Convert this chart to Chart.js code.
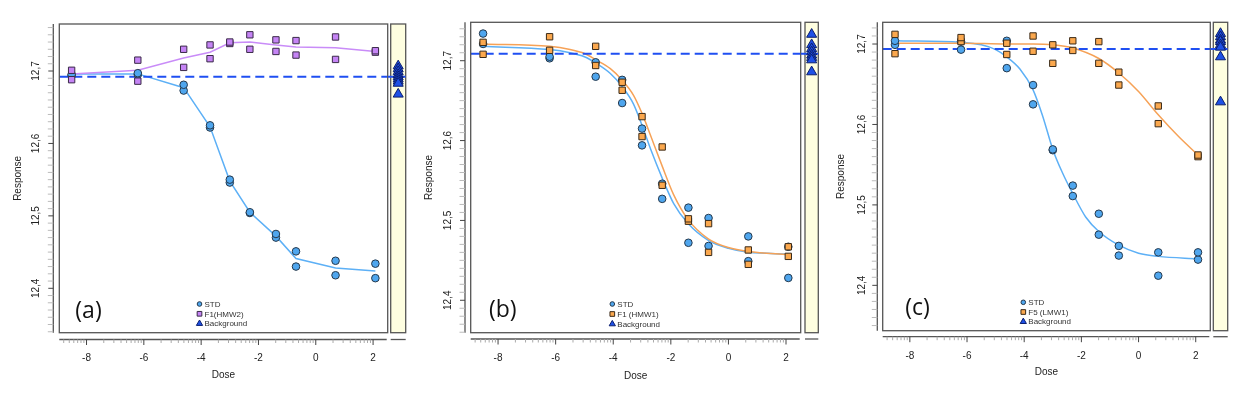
<!DOCTYPE html>
<html>
<head>
<meta charset="utf-8">
<script src="https://cdn.jsdelivr.net/npm/chart.js@4.4.1/dist/chart.umd.min.js"></script>
<style>
  html, body { margin: 0; padding: 0; background: #fff; }
  #wrap { position: relative; width: 1247px; height: 395px; overflow: hidden; }
  #wrap canvas { position: absolute; left: 0; top: 0; }
</style>
</head>
<body>
<div id="wrap"></div>
<script>
'use strict';

// doses (ln of concentration), same for all three panels
const doses = [-8.52, -6.21, -4.61, -3.69, -3.0, -2.3, -1.39, -0.69, 0.69, 2.08];
const xMajorTicks = [-8, -6, -4, -2, 0, 2];
const yMajorTicks = [12.4, 12.5, 12.6, 12.7];

// (a) STD vs F1(HMW2), two replicates per dose
const aLabels = ['STD', 'F1(HMW2)', 'Background'];
const aStdRep1 = [12.695, 12.697, 12.681, 12.625, 12.550, 12.505, 12.475, 12.451, 12.438, 12.434];
const aStdRep2 = [12.694, 12.695, 12.673, 12.622, 12.546, 12.504, 12.470, 12.430, 12.418, 12.414];
const aF1Rep1 = [12.701, 12.715, 12.730, 12.736, 12.740, 12.750, 12.743, 12.742, 12.747, 12.728];
const aF1Rep2 = [12.688, 12.686, 12.705, 12.717, 12.738, 12.730, 12.727, 12.722, 12.716, 12.726];
const aStdLine = [12.696, 12.696, 12.677, 12.623, 12.548, 12.505, 12.472, 12.441, 12.428, 12.424];
const aF1Line = [12.696, 12.701, 12.718, 12.726, 12.739, 12.740, 12.736, 12.733, 12.732, 12.727];
const aBackground = [12.707, 12.703, 12.699, 12.695, 12.692, 12.689, 12.686, 12.683, 12.668];
const aRefLevel = 12.692;

// (b) STD vs F1 (HMW1)
const bLabels = ['STD', 'F1 (HMW1)', 'Background'];
const bStdRep1 = [12.734, 12.705, 12.698, 12.676, 12.615, 12.546, 12.516, 12.503, 12.480, 12.467];
const bStdRep2 = [12.721, 12.703, 12.680, 12.647, 12.594, 12.527, 12.472, 12.468, 12.449, 12.428];
const bF1Rep1 = [12.723, 12.730, 12.718, 12.673, 12.630, 12.592, 12.502, 12.496, 12.463, 12.467];
const bF1Rep2 = [12.708, 12.713, 12.694, 12.663, 12.605, 12.544, 12.499, 12.460, 12.445, 12.455];
const bFitDose = [-8.52, -6.21, -5.5, -5.0, -4.6, -4.1, -3.7, -3.3, -3.0, -2.7, -2.3, -1.9, -1.4, -0.7, 0, 0.7, 2.08];
const bStdFit = [12.718, 12.714, 12.710, 12.705, 12.697, 12.684, 12.668, 12.646, 12.619, 12.589, 12.553, 12.521, 12.496, 12.475, 12.465, 12.460, 12.458];
const bF1Fit = [12.721, 12.718, 12.714, 12.709, 12.701, 12.690, 12.676, 12.657, 12.634, 12.606, 12.568, 12.532, 12.501, 12.477, 12.466, 12.461, 12.457];
const bBackground = [12.733, 12.720, 12.715, 12.711, 12.707, 12.704, 12.701, 12.686];
const bRefLevel = 12.7088;

// (c) STD vs F5 (LMW1)
const cLabels = ['STD', 'F5 (LMW1)', 'Background'];
const cStdRep1 = [12.704, 12.703, 12.704, 12.649, 12.569, 12.524, 12.489, 12.449, 12.441, 12.441];
const cStdRep2 = [12.699, 12.693, 12.670, 12.625, 12.568, 12.511, 12.463, 12.437, 12.412, 12.432];
const cF5Rep1 = [12.712, 12.708, 12.701, 12.710, 12.699, 12.704, 12.703, 12.665, 12.623, 12.562];
const cF5Rep2 = [12.688, 12.703, 12.687, 12.691, 12.676, 12.692, 12.676, 12.649, 12.601, 12.560];
const cStdFitDose = [-8.52, -6.21, -5.5, -5.0, -4.61, -4.15, -3.69, -3.35, -3.0, -2.65, -2.3, -1.85, -1.39, -0.69, 0, 0.69, 2.08];
const cStdFit = [12.704, 12.702, 12.699, 12.693, 12.684, 12.669, 12.643, 12.610, 12.569, 12.539, 12.514, 12.485, 12.467, 12.450, 12.440, 12.436, 12.433];
const cF5FitDose = [-8.52, -6.21, -4.61, -3.69, -3.0, -2.3, -1.39, -0.69, 0, 0.69, 1.4, 2.08];
const cF5Fit = [12.701, 12.701, 12.700, 12.700, 12.699, 12.695, 12.682, 12.664, 12.641, 12.612, 12.585, 12.562];
const cBackground = [12.713, 12.709, 12.705, 12.703, 12.699, 12.696, 12.684, 12.628];
const cRefLevel = 12.6938;

const W = 1247, H = 395;
const X_MIN = -8.95, X_MAX = 2.51;
const FONT = '"Liberation Sans", Arial, sans-serif';
const TXT = '#222';

const STD = { style: 'circle', fill: '#4FA6EE', edge: '#24384C', line: '#5DB0F6', r: 3.8 };
const PURPLE = { style: 'rect', fill: '#C584F5', edge: '#3A2A48', line: '#C98CF8', r: 4.5 };
const ORANGE = { style: 'rect', fill: '#FBA84E', edge: '#3A2A18', line: '#F6A257', r: 4.5 };
const BG = { style: 'triangle', fill: '#1E50E6', edge: '#0B1E6E', r: 5.8 };
const REF_COLOR = '#1F4FF2';

function pts(xs, ys) {
  return ys.map((y, i) => ({ x: xs[i], y: y }));
}

function markerSet(s, ys) {
  return {
    data: pts(doses, ys), pointStyle: s.style, pointRadius: s.r, pointHoverRadius: s.r,
    backgroundColor: s.fill, borderColor: s.edge, borderWidth: 1, order: 1
  };
}

function curveSet(s, xs, ys, smooth) {
  return {
    data: pts(xs, ys), showLine: true, pointRadius: 0, pointHoverRadius: 0,
    borderColor: s.line, borderWidth: 1.5, tension: 0,
    cubicInterpolationMode: smooth ? 'monotone' : 'default', order: 5
  };
}

function drawMarker(ctx, s, x, y, r) {
  ctx.fillStyle = s.fill;
  ctx.strokeStyle = s.edge;
  ctx.lineWidth = 1;
  ctx.beginPath();
  if (s.style === 'circle') {
    ctx.arc(x, y, r, 0, Math.PI * 2);
  } else if (s.style === 'rect') {
    const h = r * Math.SQRT1_2;
    ctx.rect(x - h, y - h, 2 * h, 2 * h);
  } else {
    ctx.moveTo(x, y - r);
    ctx.lineTo(x + r * 0.866, y + r * 0.5);
    ctx.lineTo(x - r * 0.866, y + r * 0.5);
    ctx.closePath();
  }
  ctx.fill();
  ctx.stroke();
}

// R style box, detached axes, minor ticks, legend and panel tag
const rAxes = {
  id: 'rAxes',
  afterDraw(chart, args, o) {
    const ctx = chart.ctx, a = chart.chartArea;
    const sx = chart.scales.x, sy = chart.scales.y;
    ctx.save();
    ctx.strokeStyle = '#555';
    ctx.lineWidth = 1.3;
    ctx.strokeRect(a.left, a.top, a.right - a.left, a.bottom - a.top);

    ctx.beginPath();
    ctx.moveTo(o.yAxisX, a.top); ctx.lineTo(o.yAxisX, a.bottom);
    ctx.moveTo(a.left, o.xAxisY); ctx.lineTo(a.right - 1, o.xAxisY);
    ctx.stroke();

    ctx.lineWidth = 1;
    sy.ticks.forEach(t => {
      const py = sy.getPixelForValue(t.value);
      ctx.strokeStyle = t.isMajor ? '#444' : '#bbb';
      ctx.beginPath();
      ctx.moveTo(o.yAxisX - (t.isMajor ? 5 : 5.5), py); ctx.lineTo(o.yAxisX, py);
      ctx.stroke();
    });
    sx.ticks.forEach(t => {
      const px = sx.getPixelForValue(t.value);
      ctx.strokeStyle = t.isMajor ? '#444' : '#aaa';
      ctx.beginPath();
      ctx.moveTo(px, o.xAxisY); ctx.lineTo(px, o.xAxisY + (t.isMajor ? 5.5 : 3.5));
      ctx.stroke();
    });

    // legend
    ctx.font = '8px ' + FONT;
    ctx.textBaseline = 'middle';
    ctx.textAlign = 'left';
    o.legend.forEach((it, i) => {
      const y = o.legendY + i * o.legendGap;
      const r = it.s.style === 'circle' ? 2.3 : (it.s.style === 'rect' ? 3.3 : 3.6);
      drawMarker(ctx, it.s, o.legendX, y, r);
      ctx.fillStyle = '#333';
      ctx.fillText(it.text, o.legendX + 5, y + 0.5);
    });

    ctx.font = '23px "Open Sans", Lato, sans-serif';
    ctx.fillStyle = '#111';
    ctx.textAlign = 'center';
    ctx.fillText(o.tag, o.tagX, o.tagY);
    ctx.restore();
  }
};

// light yellow background strip to the right of the box
const sideStrip = {
  id: 'sideStrip',
  beforeDatasetsDraw(chart, args, o) {
    const ctx = chart.ctx, a = chart.chartArea;
    ctx.save();
    ctx.fillStyle = '#FEFEE0';
    ctx.fillRect(o.left, a.top, o.right - o.left, a.bottom - a.top);
    ctx.strokeStyle = '#555';
    ctx.lineWidth = 1.3;
    ctx.strokeRect(o.left, a.top, o.right - o.left, a.bottom - a.top);
    ctx.beginPath();
    ctx.moveTo(o.left, o.xAxisY); ctx.lineTo(o.right, o.xAxisY);
    ctx.stroke();
    ctx.restore();
  }
};

function xTicks() {
  const out = xMajorTicks.map(v => ({ value: v, isMajor: true }));
  for (let base = -10; base <= 2; base += 2) {
    for (let k = 2; k <= 9; k++) {
      const v = base + 2 * Math.log10(k);
      if (v >= X_MIN && v <= X_MAX) out.push({ value: v, isMajor: false });
    }
  }
  return out.sort((p, q) => p.value - q.value);
}

function yTicks(min, max) {
  const out = [];
  for (let k = Math.ceil(min * 100 - 1e-9); k <= Math.floor(max * 100 + 1e-9); k++) {
    const v = k / 100;
    out.push({ value: v, isMajor: yMajorTicks.some(m => Math.abs(m - v) < 1e-9) });
  }
  return out;
}

function panel(p) {
  const wrap = document.getElementById('wrap');
  const main = document.createElement('canvas');
  const side = document.createElement('canvas');
  [main, side].forEach(c => { c.width = W; c.height = H; wrap.appendChild(c); });
  const tickFont = { family: FONT, size: 10 };

  new Chart(main, {
    type: 'scatter',
    data: { datasets: p.datasets.concat([{
      data: [{ x: X_MIN, y: p.ref }, { x: X_MAX, y: p.ref }], showLine: true,
      pointRadius: 0, pointHoverRadius: 0, borderColor: REF_COLOR, borderWidth: 2,
      borderDash: [9, 5], order: 3
    }]) },
    options: {
      responsive: false, animation: false, devicePixelRatio: 1,
      layout: { padding: { left: p.left, right: W - p.boxRight, top: p.boxTop, bottom: 0 } },
      plugins: {
        legend: { display: false }, tooltip: { enabled: false },
        rAxes: {
          yAxisX: p.yAxisX, xAxisY: p.xAxisY, legendX: p.legendX, legendY: p.legendY,
          legendGap: p.legendGap, legend: p.legend, tag: p.tag, tagX: p.tagX, tagY: p.tagY
        }
      },
      scales: {
        x: {
          type: 'linear', min: X_MIN, max: X_MAX,
          afterBuildTicks: s => { s.ticks = xTicks(); },
          afterFit: s => { s.height = H - p.boxBottom; },
          grid: { display: false, drawTicks: false }, border: { display: false },
          ticks: {
            autoSkip: false, minRotation: 0, maxRotation: 0, padding: p.xPad,
            font: tickFont, color: TXT,
            callback: (v, i, t) => t[i].isMajor ? String(v) : ''
          },
          title: { display: true, text: 'Dose', font: tickFont, color: TXT, padding: { top: 0, bottom: p.xTitlePad } }
        },
        y: {
          type: 'linear', min: p.yMin, max: p.yMax,
          afterBuildTicks: s => { s.ticks = yTicks(p.yMin, p.yMax); },
          afterFit: s => { s.width = p.boxLeft - p.left; },
          grid: { display: false, drawTicks: false }, border: { display: false },
          ticks: {
            autoSkip: false, minRotation: 90, maxRotation: 90, crossAlign: 'center',
            padding: p.yPad, font: tickFont, color: TXT,
            callback: (v, i, t) => t[i].isMajor ? v.toFixed(1).replace('.', ',') : ''
          },
          title: { display: true, text: 'Response', font: tickFont, color: TXT, padding: { top: p.yTitlePad, bottom: 0 } }
        }
      }
    },
    plugins: [rAxes]
  });

  const bgX = ((p.sideLeft + p.sideRight) / 2 - p.boxRight) / (p.sideRight - p.boxRight);
  new Chart(side, {
    type: 'scatter',
    data: { datasets: [
      {
        data: p.background.map(v => ({ x: bgX, y: v })), pointStyle: BG.style,
        pointRadius: BG.r, pointHoverRadius: BG.r, backgroundColor: BG.fill,
        borderColor: BG.edge, borderWidth: 1, order: 1
      },
      {
        data: [{ x: 0, y: p.ref }, { x: 1, y: p.ref }], showLine: true, pointRadius: 0,
        borderColor: REF_COLOR, borderWidth: 2, borderDash: [9, 5], order: 2
      }
    ] },
    options: {
      responsive: false, animation: false, devicePixelRatio: 1,
      layout: { padding: { left: p.boxRight, right: W - p.sideRight, top: p.boxTop, bottom: H - p.boxBottom } },
      plugins: {
        legend: { display: false }, tooltip: { enabled: false },
        sideStrip: { left: p.sideLeft, right: p.sideRight, xAxisY: p.xAxisY }
      },
      scales: {
        x: { type: 'linear', display: false, min: 0, max: 1 },
        y: { type: 'linear', display: false, min: p.yMin, max: p.yMax }
      }
    },
    plugins: [sideStrip]
  });
}

panel({
  left: 0, boxLeft: 59.3, boxRight: 387.7, boxTop: 24, boxBottom: 332.7,
  sideLeft: 390.7, sideRight: 405.7, yAxisX: 53.3, xAxisY: 339.5,
  yMin: 12.3387, yMax: 12.7649, yPad: 13.6, yTitlePad: 12.3, xPad: 19.3, xTitlePad: 14,
  ref: aRefLevel, background: aBackground,
  legendX: 199.5, legendY: 304, legendGap: 9.8, tag: '(a)', tagX: 88.5, tagY: 311.7,
  legend: [{ text: aLabels[0], s: STD }, { text: aLabels[1], s: PURPLE }, { text: aLabels[2], s: BG }],
  datasets: [
    markerSet(PURPLE, aF1Rep1), markerSet(PURPLE, aF1Rep2),
    markerSet(STD, aStdRep1), markerSet(STD, aStdRep2),
    curveSet(PURPLE, doses, aF1Line, false), curveSet(STD, doses, aStdLine, false)
  ]
});

panel({
  left: 415, boxLeft: 470.7, boxRight: 800.7, boxTop: 22.3, boxBottom: 332.7,
  sideLeft: 805, sideRight: 818.3, yAxisX: 465, xAxisY: 339,
  yMin: 12.3594, yMax: 12.7481, yPad: 12.7, yTitlePad: 8, xPad: 19.6, xTitlePad: 13,
  ref: bRefLevel, background: bBackground,
  legendX: 612.3, legendY: 304, legendGap: 10, tag: '(b)', tagX: 502.8, tagY: 310,
  legend: [{ text: bLabels[0], s: STD }, { text: bLabels[1], s: ORANGE }, { text: bLabels[2], s: BG }],
  datasets: [
    markerSet(ORANGE, bF1Rep1), markerSet(ORANGE, bF1Rep2),
    markerSet(STD, bStdRep1), markerSet(STD, bStdRep2),
    curveSet(ORANGE, bFitDose, bF1Fit, true), curveSet(STD, bFitDose, bStdFit, true)
  ]
});

panel({
  left: 830, boxLeft: 882.7, boxRight: 1210.3, boxTop: 22.3, boxBottom: 330.7,
  sideLeft: 1213.3, sideRight: 1227.7, yAxisX: 877.3, xAxisY: 336.7,
  yMin: 12.3436, yMax: 12.727, yPad: 10.7, yTitlePad: 5.7, xPad: 19.3, xTitlePad: 16.3,
  ref: cRefLevel, background: cBackground,
  legendX: 1023.3, legendY: 302.3, legendGap: 9.7, tag: '(c)', tagX: 917.5, tagY: 308.3,
  legend: [{ text: cLabels[0], s: STD }, { text: cLabels[1], s: ORANGE }, { text: cLabels[2], s: BG }],
  datasets: [
    markerSet(ORANGE, cF5Rep1), markerSet(ORANGE, cF5Rep2),
    markerSet(STD, cStdRep1), markerSet(STD, cStdRep2),
    curveSet(ORANGE, cF5FitDose, cF5Fit, true), curveSet(STD, cStdFitDose, cStdFit, true)
  ]
});
</script>
</body>
</html>
